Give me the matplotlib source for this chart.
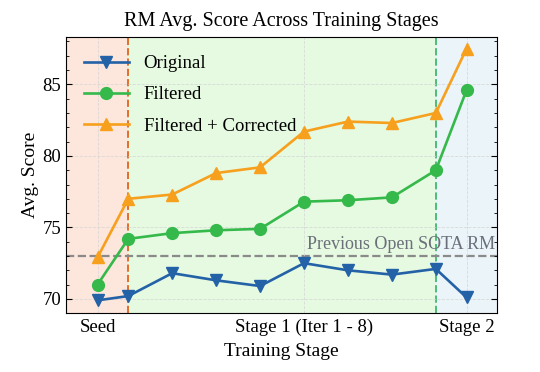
import matplotlib
matplotlib.use("Agg")

import matplotlib.pyplot as plt
from matplotlib.ticker import MultipleLocator

# Data
stage_x = [0.3, 1, 2, 3, 4, 5, 6, 7, 8, 8.7]   # seed, iter 1-8, stage 2
original = [69.9, 70.2, 71.8, 71.3, 70.9, 72.5, 72.0, 71.7, 72.1, 70.1]
filtered = [71.0, 74.2, 74.6, 74.8, 74.9, 76.8, 76.9, 77.1, 79.0, 84.6]
corrected = [72.9, 77.0, 77.3, 78.8, 79.2, 81.7, 82.4, 82.3, 83.0, 87.5]
sota_score = 73.0

tick_pos = [0.3, 5, 8.7]
tick_labels = ["Seed", "Stage 1 (Iter 1 - 8)", "Stage 2"]

plt.rcParams["font.family"] = ["Liberation Serif", "DejaVu Serif"]

fig, ax = plt.subplots(figsize=(5.4, 3.72), dpi=100)
fig.subplots_adjust(left=0.122, right=0.921, top=0.9, bottom=0.158)

xmin, xmax = -0.42, 9.4
# shaded stage regions
ax.axvspan(xmin, 1, color="#fde6dc", zorder=0)
ax.axvspan(1, 8, color="#e6f9e1", zorder=0)
ax.axvspan(8, xmax, color="#ebf4f9", zorder=0)
ax.axvline(1, color="#e0702c", ls="--", lw=1.4, zorder=1)
ax.axvline(8, color="#4cbc7a", ls="--", lw=1.4, zorder=1)

ax.axhline(sota_score, color="#8a8a8a", ls="--", lw=1.6, zorder=1)
ax.text(9.35, sota_score + 0.2, "Previous Open SOTA RM", ha="right", va="bottom",
        fontsize=13, color="#6a6f7a")

ax.plot(stage_x, original, color="#2462a8", marker="v", ms=8.5, lw=1.9,
        label="Original", zorder=3)
ax.plot(stage_x, filtered, color="#34b94a", marker="o", ms=8.5, lw=1.9,
        label="Filtered", zorder=3)
ax.plot(stage_x, corrected, color="#f6a01e", marker="^", ms=8.5, lw=1.9,
        label="Filtered + Corrected", zorder=3)

ax.set_xlim(xmin, xmax)
ax.set_ylim(69.0, 88.3)
ax.set_xticks(tick_pos)
ax.set_xticklabels(tick_labels)
ax.set_yticks([70, 75, 80, 85])
ax.yaxis.set_minor_locator(MultipleLocator(1))
ax.tick_params(axis="both", which="both", direction="in", labelsize=13.5,
               right=True)
ax.tick_params(axis="x", length=0, pad=4)
ax.tick_params(axis="y", which="major", length=4)
ax.tick_params(axis="y", which="minor", length=2)
ax.grid(True, ls="--", lw=0.6, color="#d4d4d4", alpha=0.8)

ax.set_xlabel("Training Stage", fontsize=14, labelpad=5)
ax.set_ylabel("Avg. Score", fontsize=14, labelpad=2)
ax.set_title("RM Avg. Score Across Training Stages", fontsize=14.5, pad=8)

ax.legend(loc="upper left", frameon=False, fontsize=13.5, handlelength=2.4,
          borderaxespad=0.55, labelspacing=0.75)

fig.savefig("out.png", dpi=100)
